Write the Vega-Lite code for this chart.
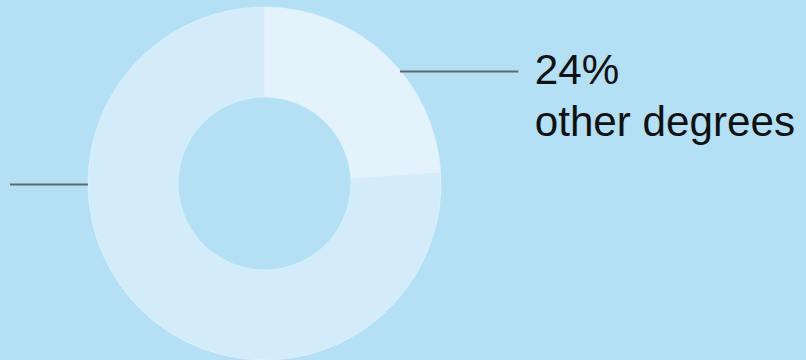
{
  "$schema": "https://vega.github.io/schema/vega-lite/v6.json",
  "width": 806,
  "height": 360,
  "padding": 0,
  "autosize": {"type": "none"},
  "background": "#b3e0f5",
  "config": {"view": {"stroke": null}},
  "layer": [
    {
      "data": {"values": [
        {"category": "other degrees", "share": 24, "order": 1, "cx": 0, "cy": 0},
        {"category": "rest", "share": 76, "order": 2, "cx": 0, "cy": 0}
      ]},
      "mark": {"type": "arc", "innerRadius": 86.5, "outerRadius": 176.5, "stroke": "#e6f4fc", "strokeWidth": 0.6},
      "encoding": {
        "theta": {"field": "share", "type": "quantitative", "stack": true},
        "order": {"field": "order", "type": "quantitative"},
        "color": {"field": "category", "type": "nominal", "legend": null,
          "scale": {"domain": ["other degrees", "rest"], "range": ["#e3f2fb", "#d4ecf9"]}},
        "x": {"field": "cx", "type": "quantitative", "axis": null, "scale": {"domain": [-1.4986, 3.068], "nice": false, "zero": false}},
        "y": {"field": "cy", "type": "quantitative", "axis": null, "scale": {"domain": [-1.0, 1.0397], "nice": false, "zero": false}}
      }
    },
    {
      "data": {"values": [
        {"x1": 0.7677, "x2": 1.438, "y": 0.6346},
        {"x1": -1.4419, "x2": -1.0, "y": -0.005}
      ]},
      "mark": {"type": "rule", "color": "#666666", "strokeWidth": 2},
      "encoding": {
        "x": {"field": "x1", "type": "quantitative"},
        "x2": {"field": "x2"},
        "y": {"field": "y", "type": "quantitative"}
      }
    },
    {
      "data": {"values": [
        {"label": "24%\nother degrees", "tx": 1.531, "ty": 0.5637}
      ]},
      "mark": {"type": "text", "align": "left", "baseline": "alphabetic", "font": "Liberation Sans", "fontSize": 42.2, "lineHeight": 51.5, "lineBreak": "\n", "color": "#111111"},
      "encoding": {
        "x": {"field": "tx", "type": "quantitative"},
        "y": {"field": "ty", "type": "quantitative"},
        "text": {"field": "label"}
      }
    }
  ]
}
